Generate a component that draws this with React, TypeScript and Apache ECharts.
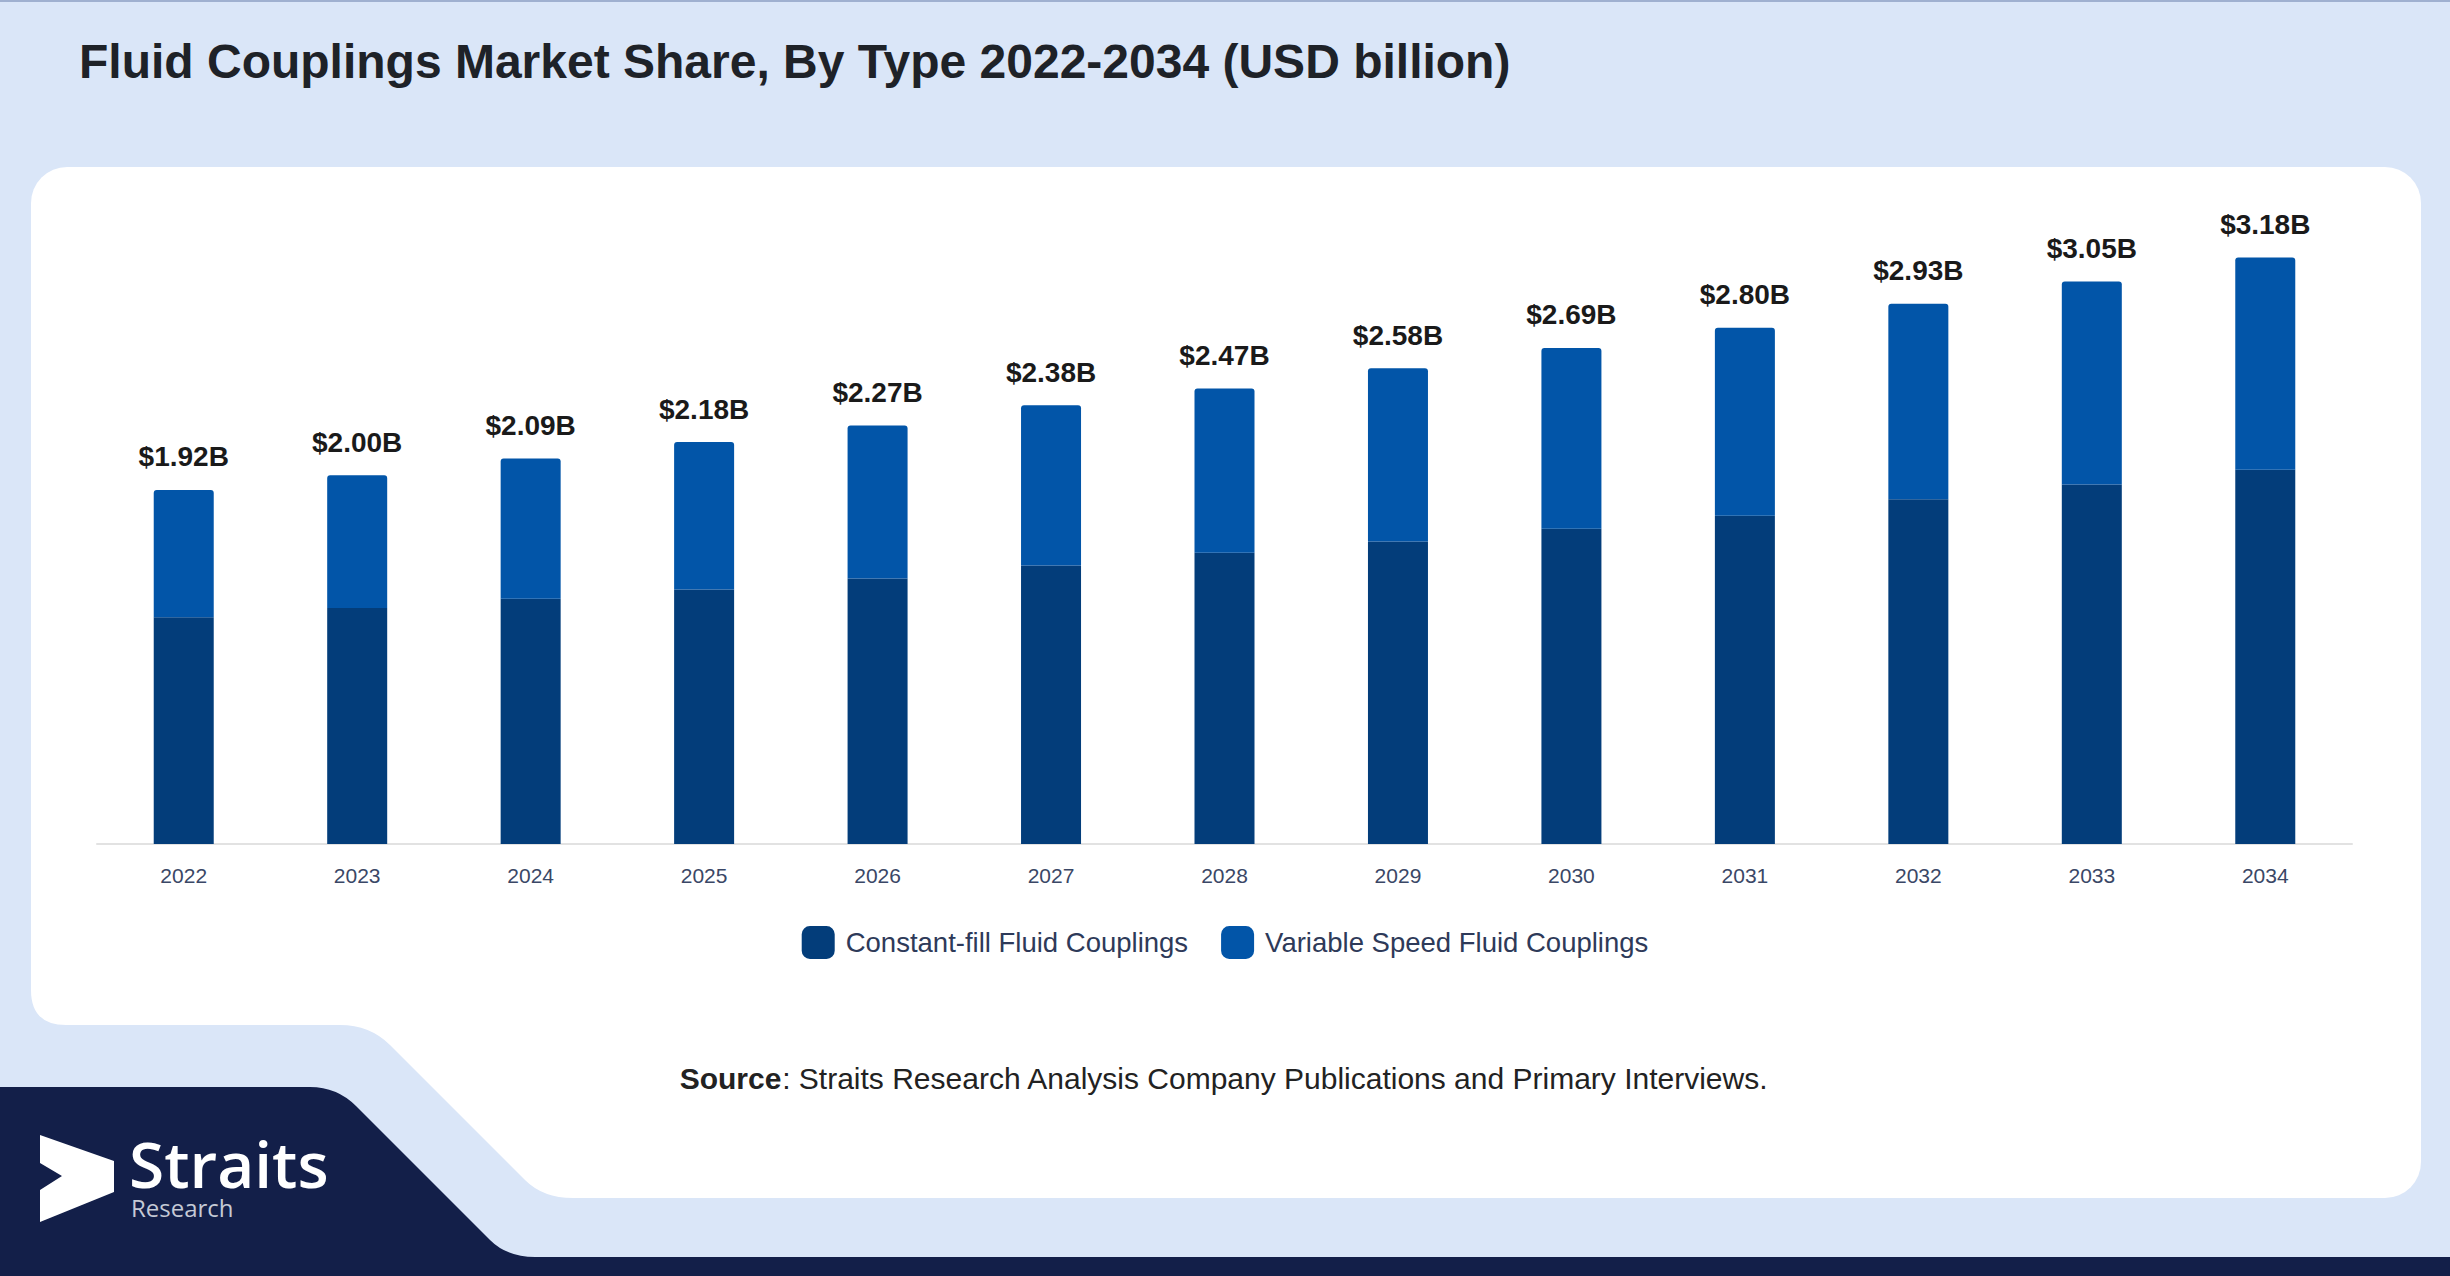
import React, { useEffect, useRef } from "react";
import * as echarts from "echarts";

const years = ["2022", "2023", "2024", "2025", "2026", "2027", "2028", "2029", "2030", "2031", "2032", "2033", "2034"];
const constantFill = [1.23, 1.28, 1.33, 1.38, 1.44, 1.51, 1.58, 1.64, 1.71, 1.78, 1.87, 1.95, 2.03];
const variableSpeed = [0.69, 0.72, 0.76, 0.8, 0.83, 0.87, 0.89, 0.94, 0.98, 1.02, 1.06, 1.1, 1.15];
const totalLabels = ["$1.92B", "$2.00B", "$2.09B", "$2.18B", "$2.27B", "$2.38B", "$2.47B", "$2.58B", "$2.69B", "$2.80B", "$2.93B", "$3.05B", "$3.18B"];
const seriesNames = ["Constant-fill Fluid Couplings", "Variable Speed Fluid Couplings"];
const titleText = "Fluid Couplings Market Share, By Type 2022-2034 (USD billion)";
const sourceText = "{b|Source}: Straits Research Analysis Company Publications and Primary Interviews.";

const FONT = "'Liberation Sans', Arial, Helvetica, sans-serif";
const LOGO_FONT = "'Open Sans', sans-serif";

echarts.graphic.registerShape(
  "cutoutBand",
  echarts.graphic.extendPath(
    "M0 990 L31 990 Q31 1025 66 1025 L340 1025 Q370 1025 390 1045 L525 1180 Q543 1198 573 1198 L640 1198 L640 1276 L0 1276 Z",
    {}
  )
);
echarts.graphic.registerShape(
  "navyBand",
  echarts.graphic.extendPath(
    "M0 1087 L310 1087 Q337 1087 356 1106 L490 1240 Q507 1257 535 1257 L2450 1257 L2450 1276 L0 1276 Z",
    {}
  )
);

export default function App() {
  const ref = useRef<HTMLDivElement>(null);
  useEffect(() => {
    document.body.style.margin = "0";
    const chart = echarts.init(ref.current!, undefined, { renderer: "svg" });
    chart.setOption({
      animation: false,
      backgroundColor: "#dae6f8",
      textStyle: { fontFamily: FONT },
      title: {
        text: titleText,
        left: 74,
        top: 32,
        textStyle: { fontSize: 48, fontWeight: "bold", color: "#1e2228", fontFamily: FONT },
      },
      graphic: [
        { type: "rect", z: -10, shape: { x: 0, y: 0, width: 2450, height: 2 }, style: { fill: "#9fb0d0" } },
        { type: "rect", z: -10, shape: { x: 31, y: 167, width: 2390, height: 1031, r: 36 }, style: { fill: "#ffffff" } },
        { type: "cutoutBand", z: -9, x: 0, y: 0, style: { fill: "#dae6f8" } },
        { type: "navyBand", z: -8, x: 0, y: 0, style: { fill: "#131f49" } },
        {
          type: "polygon",
          z: -7,
          shape: { points: [[40, 1135], [114, 1161], [114, 1192], [40, 1222], [40, 1190], [62, 1176], [40, 1163]] },
          style: { fill: "#ffffff" },
        },
        {
          type: "text",
          z: -7,
          x: 129,
          y: 1163,
          style: {
            text: "Straits",
            fill: "#ffffff",
            fontSize: 64,
            fontWeight: 600,
            fontFamily: LOGO_FONT,
            lineHeight: 48,
            verticalAlign: "middle",
            textVerticalAlign: "middle",
          },
        },
        {
          type: "text",
          z: -7,
          x: 131,
          y: 1207,
          style: {
            text: "Research",
            fill: "#c5cad6",
            fontSize: 24,
            fontFamily: LOGO_FONT,
            lineHeight: 18,
            verticalAlign: "middle",
            textVerticalAlign: "middle",
          },
        },
        {
          type: "text",
          z: -7,
          x: 1224,
          y: 1078,
          style: {
            text: sourceText,
            fill: "#222222",
            fontSize: 30,
            fontFamily: FONT,
            align: "center",
            textAlign: "center",
            verticalAlign: "middle",
            textVerticalAlign: "middle",
            rich: {
              b: { fontWeight: "bold", fontSize: 30, fontFamily: FONT, fill: "#222222" },
            },
          },
        },
      ],
      legend: {
        left: "center",
        top: 921,
        itemWidth: 33,
        itemHeight: 33,
        itemGap: 33,
        icon: "roundRect",
        textStyle: { fontSize: 27.5, color: "#2e3a59", fontFamily: FONT, padding: [0, 0, 0, 6] },
        data: seriesNames,
      },
      grid: { left: 97, right: 98, top: 198.6, bottom: 432, containLabel: false },
      xAxis: {
        type: "category",
        data: years,
        axisLine: { show: true, lineStyle: { color: "#e2e2e2", width: 2 } },
        axisTick: { show: false },
        axisLabel: { fontSize: 21, color: "#3a4766", margin: 21, fontFamily: FONT },
      },
      yAxis: { type: "value", min: 0, max: 3.5, show: false, splitLine: { show: false } },
      series: [
        {
          name: seriesNames[0],
          type: "bar",
          stack: "total",
          barWidth: 60,
          data: constantFill,
          itemStyle: { color: "#033d7a" },
        },
        {
          name: seriesNames[1],
          type: "bar",
          stack: "total",
          barWidth: 60,
          data: variableSpeed,
          itemStyle: { color: "#0255a8", borderRadius: [3, 3, 0, 0] },
          label: {
            show: true,
            position: "top",
            distance: 19,
            formatter: (p: any) => totalLabels[p.dataIndex],
            fontSize: 28,
            fontWeight: "bold",
            color: "#1a1a1a",
            fontFamily: FONT,
          },
        },
      ],
    });
    return () => chart.dispose();
  }, []);
  return <div ref={ref} style={{ width: 2450, height: 1276 }} />;
}
